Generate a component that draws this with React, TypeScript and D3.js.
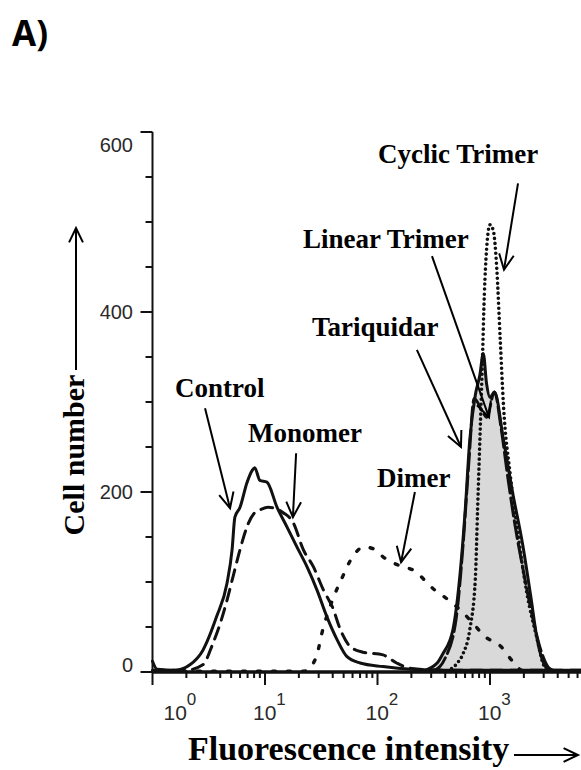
import React from 'react';
import * as d3 from 'd3';

const W = 581;
const H = 770;

// fluorescence intensity (a.u.) vs cell number
const controlX = [1, 1.1, 1.6, 2.15, 2.8, 3.7, 4.6, 5.1, 5.4, 6.0, 6.9, 7.7, 8.1, 9.0, 10.4, 12.8, 15.7, 19.2, 23.6, 29, 35.6, 43.7, 53.6, 70, 112, 200, 400, 1000, 6500];
const controlY = [12, 3, 2, 8, 24, 61, 99, 136, 172, 183, 210, 224, 227, 213, 211, 183, 161, 139, 117, 91, 61, 36, 17, 10, 6, 3, 2, 2, 2];

const monomerX = [1, 2.0, 2.8, 3.45, 4.0, 4.6, 5.2, 6.0, 6.9, 8.1, 9.0, 10.7, 12.3, 14.5, 17.8, 21.9, 26.9, 33.1, 39.8, 46.8, 57.5, 74, 112, 148, 200, 400, 6500];
const monomerY = [2, 2, 8, 32, 54, 80, 106, 136, 161, 177, 180, 183, 182, 177, 166, 136, 117, 91, 72, 47, 28, 22, 19, 10, 4, 2, 2];

const dimerX = [1, 22.4, 28.2, 33.1, 39.8, 49, 60, 76, 95, 112, 158, 209, 316, 417, 575, 708, 891, 1259, 1585, 1995, 6500];
const dimerY = [1, 1, 15, 50, 80, 106, 128, 139, 136, 128, 118, 113, 92, 81, 66, 54, 40, 28, 12, 1, 1];

const tariquidarX = [251, 339, 380, 468, 537, 603, 661, 741, 813, 871, 933, 1000, 1096, 1318, 1585, 1950, 2291, 2630, 2951, 3388, 6500];
const tariquidarY = [1, 10, 20, 47, 104, 181, 258, 308, 330, 354, 320, 305, 311, 258, 200, 142, 86, 36, 12, 2, 1];

const linearX = [316, 398, 501, 575, 646, 724, 851, 933, 1096, 1259, 1445, 1660, 1995, 2399, 2818, 3311, 3802];
const linearY = [1, 15, 60, 140, 230, 304, 290, 283, 311, 270, 215, 165, 110, 60, 25, 5, 1];

const cyclicX = [417, 513, 575, 661, 741, 776, 813, 851, 891, 933, 1000, 1072, 1148, 1230, 1318, 1514, 1738, 2138, 2630, 2951, 3311];
const cyclicY = [1, 10, 20, 47, 104, 181, 258, 334, 420, 470, 497, 490, 449, 372, 296, 219, 161, 86, 36, 10, 1];

const yTickLabels = [0, 200, 400, 600];
const xDecades = [0, 1, 2, 3];

type Pt = [number, number];
const zip = (xs: number[], ys: number[]): Pt[] => xs.map((v, i) => [v, ys[i]] as Pt);

function Arrow({ x1, y1, x2, y2, head = 17 }: { x1: number; y1: number; x2: number; y2: number; head?: number }) {
  const a = Math.atan2(y2 - y1, x2 - x1);
  const s = Math.PI / 7;
  const p1 = [x2 - head * Math.cos(a - s), y2 - head * Math.sin(a - s)];
  const p2 = [x2 - head * Math.cos(a + s), y2 - head * Math.sin(a + s)];
  return (
    <g stroke="#000" strokeWidth={2} fill="none">
      <line x1={x1} y1={y1} x2={x2} y2={y2} />
      <polyline points={`${p1[0]},${p1[1]} ${x2},${y2} ${p2[0]},${p2[1]}`} />
    </g>
  );
}

export default function App() {
  const x = d3.scaleLog().domain([1, 1000]).range([152.5, 490]);
  const y = d3.scaleLinear().domain([0, 600]).range([672, 132]);
  const xEnd = W;

  const line = d3.line<Pt>().x(d => x(d[0])).y(d => y(d[1])).curve(d3.curveMonotoneX);
  const area = d3.area<Pt>().x(d => x(d[0])).y0(y(0)).y1(d => y(d[1])).curve(d3.curveMonotoneX);

  const series = [
    { key: 'control', pts: zip(controlX, controlY), dash: undefined, w: 3 },
    { key: 'monomer', pts: zip(monomerX, monomerY), dash: '12,8', w: 3 },
    { key: 'dimer', pts: zip(dimerX, dimerY), dash: '3,12', w: 3.4 },
    { key: 'linear', pts: zip(linearX, linearY), dash: '18,5', w: 3 },
    { key: 'tariquidar', pts: zip(tariquidarX, tariquidarY), dash: undefined, w: 3 },
    { key: 'cyclic', pts: zip(cyclicX, cyclicY), dash: '0,5', w: 3.6 },
  ];

  const xTicks: { v: number; major: boolean }[] = [];
  for (let e = 0; e <= 4; e++) {
    for (let k = 1; k <= 9; k++) {
      const v = k * Math.pow(10, e);
      if (x(v) <= xEnd) xTicks.push({ v, major: k === 1 });
    }
  }
  const yTicks = d3.range(0, 601, 50);

  // annotation arrows, start and tip in data units
  const notes = [
    { text: 'Cyclic Trimer', tx: 378, ty: 163, from: [1774, 543], to: [1332, 447] },
    { text: 'Linear Trimer', tx: 303, ty: 248, from: [305, 462], to: [980, 283] },
    { text: 'Tariquidar', tx: 312, ty: 336, from: [224, 358], to: [552, 250] },
    { text: 'Control', tx: 175, ty: 397, from: [2.93, 293], to: [4.89, 182] },
    { text: 'Monomer', tx: 248, ty: 442, from: [18.9, 243], to: [17.7, 172] },
    { text: 'Dimer', tx: 377, ty: 487, from: [215, 200], to: [162, 122] },
  ];

  const serif = '"Liberation Serif", "Times New Roman", serif';
  const sans = '"Liberation Sans", Arial, sans-serif';

  return (
    <svg width={W} height={H} style={{ position: 'absolute', left: 0, top: 0, background: '#fff' }}>
      <rect width={W} height={H} fill="#fff" />
      <text x={12} y={46} fontFamily='"Open Sans", sans-serif' fontWeight="bold" fontSize={35}>A)</text>

      {/* histograms */}
      <path d={area(zip(tariquidarX, tariquidarY)) || ''} fill="#d9d9d9" />
      {series.map(s => (
        <path key={s.key} d={line(s.pts) || ''} fill="none" stroke="#111" strokeWidth={s.w}
          strokeDasharray={s.dash} strokeLinecap="round" strokeLinejoin="round" />
      ))}

      {/* y axis */}
      <line x1={x(1)} x2={x(1)} y1={y(600)} y2={y(0)} stroke="#111" strokeWidth={2} />
      {yTicks.map(t => (
        <line key={t} x1={x(1) - (t % 200 === 0 ? 12 : 7)} x2={x(1)} y1={y(t)} y2={y(t)} stroke="#111" strokeWidth={2} />
      ))}
      {yTickLabels.map(t => (
        <text key={t} x={133} y={Math.min(Math.max(y(t), 145), 665)} dominantBaseline="central" textAnchor="end"
          fontFamily={sans} fontSize={20} fill="#2a2a2a">{t}</text>
      ))}

      {/* x axis */}
      <line x1={x(1)} x2={xEnd} y1={y(0)} y2={y(0)} stroke="#111" strokeWidth={3.5} />
      {xTicks.map(t => (
        <line key={t.v} x1={x(t.v)} x2={x(t.v)} y1={y(0)} y2={y(0) + (t.major ? 13 : 6)} stroke="#111" strokeWidth={2} />
      ))}
      {xDecades.map(e => {
        const cx = e === 0 ? x(1) + 23 : x(Math.pow(10, e));
        return (
          <text key={e} x={cx - 12} y={720} fontFamily={sans} fontSize={21} fill="#2a2a2a">
            10<tspan dy={-15} fontSize={17}>{e}</tspan>
          </text>
        );
      })}

      {/* annotations */}
      {notes.map(n => (
        <g key={n.text}>
          <text x={n.tx} y={n.ty} fontFamily={serif} fontWeight="bold" fontSize={27}>{n.text}</text>
          <Arrow x1={x(n.from[0])} y1={y(n.from[1])} x2={x(n.to[0])} y2={y(n.to[1])} />
        </g>
      ))}

      {/* axis titles */}
      <text transform="translate(84,455) rotate(-90)" textAnchor="middle" fontFamily={serif} fontWeight="bold" fontSize={30}>Cell number</text>
      <Arrow x1={76} y1={370} x2={76} y2={228} head={16} />
      <text x={188} y={760} fontFamily={serif} fontWeight="bold" fontSize={34}>Fluorescence intensity</text>
      <Arrow x1={514} y1={755} x2={578} y2={755} head={16} />
    </svg>
  );
}
